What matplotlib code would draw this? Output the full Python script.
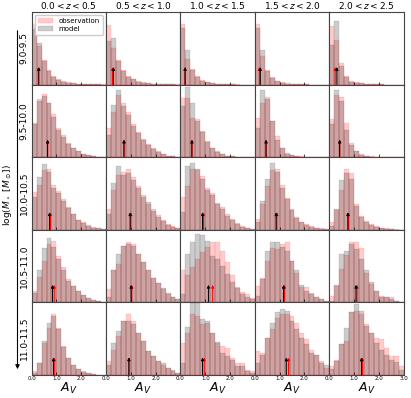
import numpy as np
import matplotlib
matplotlib.use("Agg")
import matplotlib.pyplot as plt

# bins of A_V (0 to 3, width 0.2)
bin_edges = np.arange(0, 3.0001, 0.2)
z_labels = ["$0.0 < z < 0.5$", "$0.5 < z < 1.0$", "$1.0 < z < 1.5$",
            "$1.5 < z < 2.0$", "$2.0 < z < 2.5$"]
mass_labels = ["9.0-9.5", "9.5-10.0", "10.0-10.5", "10.5-11.0", "11.0-11.5"]

# histogram heights per mass bin, one list per redshift bin
obs_m90 = [
    [83, 53, 34, 20, 12, 7, 4.5, 3, 2, 1, 0.6, 0.4, 0.2, 0.1, 0.1],
    [82, 50, 34, 20, 12, 8, 5, 3, 2, 1, 0.6, 0.4, 0.2, 0.1, 0.1],
    [83, 35, 22, 12, 6, 3, 2, 1, 0.6, 0.3, 0.2, 0.1, 0, 0, 0],
    [83, 39, 20, 10, 5, 3, 1.5, 1, 0.5, 0.3, 0.1, 0, 0, 0, 0],
    [81, 62, 30, 12, 5, 3, 2, 1, 0.5, 0.3, 0.1, 0, 0, 0, 0],
]
mod_m90 = [
    [77, 57, 32, 19, 11, 6, 4, 2.5, 1.5, 1, 0.5, 0.3, 0.2, 0.1, 0],
    [60, 64, 32, 19, 11, 7, 4, 2.5, 1.5, 1, 0.5, 0.3, 0.2, 0.1, 0],
    [78, 48, 20, 11, 5, 3, 1.5, 1, 0.5, 0.3, 0.1, 0, 0, 0, 0],
    [78, 48, 18, 9, 4.5, 2.5, 1.2, 0.8, 0.4, 0.2, 0.1, 0, 0, 0, 0],
    [55, 87, 25, 10, 4, 2.5, 1.5, 0.8, 0.4, 0.2, 0.1, 0, 0, 0, 0],
]
obs_m95 = [
    [47, 80, 87, 75, 60, 40, 30, 19, 12, 8, 5, 3, 1.5, 0.8, 0.3],
    [40, 62, 85, 75, 62, 45, 35, 25, 18, 12, 8, 4, 2, 1, 0.5],
    [82, 82, 54, 53, 36, 22, 13, 8, 5, 2, 1, 0.5, 0.3, 0, 0],
    [54, 75, 83, 50, 29, 13, 6, 3, 2, 1, 0.5, 0.2, 0, 0, 0],
    [52, 85, 83, 47, 20, 9, 4, 2, 1, 0.5, 0.2, 0, 0, 0, 0],
]
mod_m95 = [
    [45, 78, 84, 75, 55, 38, 28, 18, 12, 8, 5, 3, 1.2, 0.6, 0.2],
    [30, 72, 93, 70, 58, 43, 33, 24, 17, 11, 7, 4, 2, 1, 0.3],
    [70, 96, 75, 50, 34, 21, 12, 7, 4, 2, 1, 0.5, 0.2, 0, 0],
    [40, 93, 80, 50, 24, 12, 5, 3, 1.5, 0.8, 0.3, 0.1, 0, 0, 0],
    [45, 93, 77, 38, 17, 8, 3.5, 1.5, 0.8, 0.3, 0.1, 0, 0, 0, 0],
]
obs_m100 = [
    [52, 62, 82, 83, 62, 53, 42, 31, 21, 14, 10, 6, 4, 2.5, 1.5],
    [28, 55, 75, 80, 83, 72, 60, 48, 36, 28, 20, 13, 8, 5, 3],
    [45, 60, 83, 82, 74, 58, 51, 37, 31, 21, 15, 9, 5, 3, 1.5],
    [15, 35, 60, 82, 83, 62, 44, 28, 17, 10, 8, 5, 3, 2, 1],
    [10, 27, 55, 83, 78, 35, 19, 12, 8, 5, 3, 2, 1, 0.5, 0.3],
]
mod_m100 = [
    [45, 72, 90, 80, 57, 50, 40, 30, 21, 14, 9, 5, 3, 2, 1],
    [22, 65, 88, 76, 78, 68, 57, 45, 38, 26, 18, 12, 7, 4, 2],
    [24, 88, 92, 84, 70, 55, 48, 35, 28, 19, 13, 8, 4, 2, 1],
    [10, 40, 70, 92, 80, 58, 42, 27, 16, 10, 7, 4, 2.5, 1.5, 0.8],
    [5, 28, 68, 78, 70, 33, 18, 10, 6, 4, 2, 1, 0.5, 0.3, 0],
]
obs_m105 = [
    [15, 35, 57, 80, 85, 64, 48, 32, 23, 16, 10, 5.5, 3.7, 2, 1],
    [18, 44, 53, 78, 83, 81, 67, 55, 44, 34, 27, 18, 11, 7, 5],
    [44, 37, 48, 60, 69, 76, 83, 83, 71, 55, 37, 21, 14, 11, 6],
    [23, 34, 57, 75, 73, 80, 83, 57, 40, 21, 21, 13, 7, 5, 2],
    [9, 22, 46, 65, 83, 83, 75, 40, 25, 16, 9, 7, 7, 2, 1],
]
mod_m105 = [
    [13, 44, 75, 88, 76, 60, 45, 30, 23, 16, 10, 5.5, 3.5, 2, 1],
    [7, 44, 67, 78, 80, 78, 67, 55, 44, 34, 27, 20, 13, 7, 5],
    [11, 67, 83, 94, 93, 85, 64, 60, 50, 39, 28, 20, 12, 7, 4],
    [9, 32, 71, 83, 83, 76, 71, 57, 44, 24, 16, 11, 7, 5, 2],
    [2, 24, 67, 71, 80, 73, 60, 44, 28, 16, 8, 7, 4, 2, 1],
]
obs_m110 = [
    [5, 17, 44, 65, 84, 65, 40, 23, 14, 8, 5.5, 3, 1.5, 0.5, 0],
    [19, 35, 53, 74, 84, 74, 58, 47, 33, 26, 19, 14, 9, 5, 2],
    [44, 58, 84, 81, 70, 72, 58, 44, 40, 37, 23, 16, 16, 7, 5],
    [33, 30, 51, 63, 79, 84, 84, 81, 72, 58, 49, 35, 28, 19, 9],
    [12, 21, 42, 47, 86, 88, 84, 70, 58, 51, 49, 37, 26, 26, 12],
]
mod_m110 = [
    [3, 17, 47, 71, 81, 63, 39, 23, 14, 8, 4.5, 2.5, 1.2, 0.4, 0],
    [14, 44, 60, 74, 74, 70, 58, 47, 33, 26, 19, 16, 9, 7, 2],
    [16, 66, 99, 99, 77, 74, 58, 46, 30, 26, 20, 12, 12, 5, 3],
    [16, 28, 51, 72, 86, 91, 88, 74, 63, 51, 42, 30, 28, 17, 14],
    [8, 19, 42, 65, 86, 98, 88, 68, 58, 44, 35, 28, 21, 18, 7],
]

# medians (arrows), rows = mass bins, cols = redshift bins
med_mod = [
    [0.29, 0.30, 0.19, 0.22, 0.31],
    [0.64, 0.72, 0.46, 0.45, 0.42],
    [0.72, 0.97, 0.89, 0.86, 0.75],
    [0.84, 1.01, 1.13, 1.16, 1.08],
    [0.88, 0.92, 0.89, 1.27, 1.30],
]
med_obs = [
    [0.27, 0.26, 0.18, 0.18, 0.24],
    [0.65, 0.73, 0.47, 0.46, 0.43],
    [0.76, 1.00, 0.93, 0.89, 0.78],
    [0.91, 1.04, 1.30, 1.19, 1.12],
    [0.91, 0.93, 0.96, 1.36, 1.34],
]

obs_all = [obs_m90, obs_m95, obs_m100, obs_m105, obs_m110]
mod_all = [mod_m90, mod_m95, mod_m100, mod_m105, mod_m110]

fig, axes = plt.subplots(5, 5, figsize=(4.11, 3.98), dpi=100)
fig.subplots_adjust(left=0.077, right=0.982, top=0.970, bottom=0.058,
                    wspace=0, hspace=0)

for i in range(5):
    for j in range(5):
        ax = axes[i, j]
        ax.bar(bin_edges[:-1], obs_all[i][j], width=0.2, align="edge",
               color="red", alpha=0.2, edgecolor="red", linewidth=0.3,
               label="observation")
        ax.bar(bin_edges[:-1], mod_all[i][j], width=0.2, align="edge",
               color="black", alpha=0.2, edgecolor="black", linewidth=0.3,
               label="model")
        # red (observation) first, black (model) on top
        for m, c in [(med_obs[i][j], "red"), (med_mod[i][j], "black")]:
            ax.annotate("", xy=(m, 0.24), xycoords=("data", "axes fraction"),
                        xytext=(m, 0.0), textcoords=("data", "axes fraction"),
                        arrowprops=dict(arrowstyle="-|>", color=c, lw=0.7,
                                        mutation_scale=4, shrinkA=0, shrinkB=0))
        ax.set_xlim(0, 3.0)
        ax.set_ylim(0, 100)
        ax.set_yticks([])
        if j == 4:
            ax.set_xticks([0, 1, 2, 3])
        else:
            ax.set_xticks([0, 1, 2])
        ax.tick_params(axis="x", direction="in", length=2, width=0.5,
                       labelsize=4, pad=1)
        if i < 4:
            ax.set_xticklabels([])
        else:
            ax.set_xticklabels(["%.1f" % t for t in ax.get_xticks()])
            ax.set_xlabel("$A_V$", fontsize=9, labelpad=0)
        for s in ax.spines.values():
            s.set_color("#444444")
            s.set_linewidth(0.8)
        if i == 0:
            ax.set_title(z_labels[j], fontsize=6.5, pad=2)
        if j == 0:
            ax.set_ylabel(mass_labels[i], fontsize=6.5, labelpad=2)

axes[0, 0].legend(loc="upper right", fontsize=5, handlelength=2.2,
                  borderpad=0.4, labelspacing=0.3, framealpha=1,
                  edgecolor="#cccccc")

# mass direction arrow on the left
fig.add_artist(matplotlib.patches.FancyArrowPatch(
    (17.5 / 411, 1 - 28 / 398), (17.5 / 411, 1 - 372 / 398),
    transform=fig.transFigure, arrowstyle="-|>", mutation_scale=6,
    color="black", lw=0.8))
fig.text(8 / 411, 1 - 195 / 398, r"log($M_\star$ [$M_\odot$])",
         rotation=90, fontsize=6.5, ha="center", va="center")

fig.savefig("out.png", dpi=100)
